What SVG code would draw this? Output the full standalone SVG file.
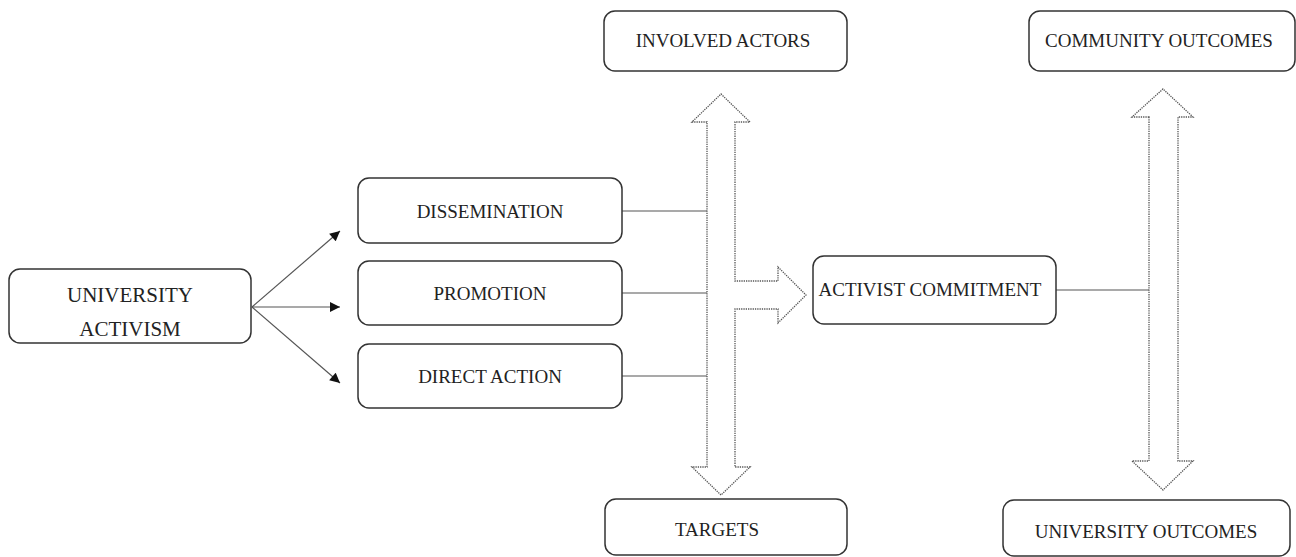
<svg xmlns="http://www.w3.org/2000/svg" width="1296" height="557" viewBox="0 0 1296 557">
<defs>
<style>
.box{fill:#fff;stroke:#333;stroke-width:1.5}
.t{font-family:"Liberation Serif","Times New Roman",serif;font-size:19px;fill:#222;text-anchor:middle}
.big{font-size:21px}
.ln{stroke:#555;stroke-width:1.2;fill:none}
.dot{fill:#fff;stroke:#555;stroke-width:1.3;stroke-dasharray:1.3 1}
</style>
<marker id="ah" viewBox="0 0 10 10" refX="10" refY="5" markerWidth="11" markerHeight="10" markerUnits="userSpaceOnUse" orient="auto">
<path d="M0,0 L10,5 L0,10 Z" fill="#111"/>
</marker>
</defs>
<rect width="1296" height="557" fill="#fff"/>
<g id="connectors">
<line class="ln" x1="252" y1="307" x2="340" y2="231" marker-end="url(#ah)"/>
<line class="ln" x1="252" y1="307" x2="340" y2="307" marker-end="url(#ah)"/>
<line class="ln" x1="252" y1="307" x2="340" y2="383" marker-end="url(#ah)"/>
<line class="ln" x1="622" y1="211" x2="707" y2="211"/>
<line class="ln" x1="622" y1="293" x2="707" y2="293"/>
<line class="ln" x1="622" y1="376" x2="707" y2="376"/>
<line class="ln" x1="1056" y1="290" x2="1149" y2="290"/>
<path class="dot" d="M707,122 L692,122 L721,94 L750,122 L735,122 L735,281 L778,281 L778,267 L806,295 L778,323 L778,309 L735,309 L735,467 L750,467 L721,495 L692,467 L707,467 Z"/>
<path class="dot" d="M1149,117 L1132,117 L1163,89 L1193,117 L1178,117 L1178,461 L1193,461 L1163,490 L1132,461 L1149,461 Z"/>
</g>
<g id="university-activism">
<rect class="box" x="9" y="269" width="242" height="74" rx="11"/>
<text class="t big" x="130" y="302">UNIVERSITY</text>
<text class="t big" x="130" y="336">ACTIVISM</text>
</g>
<g id="dissemination">
<rect class="box" x="358" y="178" width="264" height="65" rx="11"/>
<text class="t" x="490" y="218">DISSEMINATION</text>
</g>
<g id="promotion">
<rect class="box" x="358" y="261" width="264" height="64" rx="11"/>
<text class="t" x="490" y="300">PROMOTION</text>
</g>
<g id="direct-action">
<rect class="box" x="358" y="344" width="264" height="64" rx="11"/>
<text class="t" x="490" y="383">DIRECT ACTION</text>
</g>
<g id="involved-actors">
<rect class="box" x="604" y="11" width="243" height="60" rx="11"/>
<text class="t" x="723" y="47">INVOLVED ACTORS</text>
</g>
<g id="targets">
<rect class="box" x="605" y="499" width="242" height="56" rx="11"/>
<text class="t" x="717" y="536">TARGETS</text>
</g>
<g id="activist-commitment">
<rect class="box" x="813" y="256" width="243" height="68" rx="11"/>
<text class="t" x="930" y="296">ACTIVIST COMMITMENT</text>
</g>
<g id="community-outcomes">
<rect class="box" x="1029" y="11" width="266" height="60" rx="11"/>
<text class="t" x="1159" y="47">COMMUNITY OUTCOMES</text>
</g>
<g id="university-outcomes">
<rect class="box" x="1003" y="500" width="287" height="56" rx="11"/>
<text class="t" x="1146" y="538">UNIVERSITY OUTCOMES</text>
</g>
</svg>
